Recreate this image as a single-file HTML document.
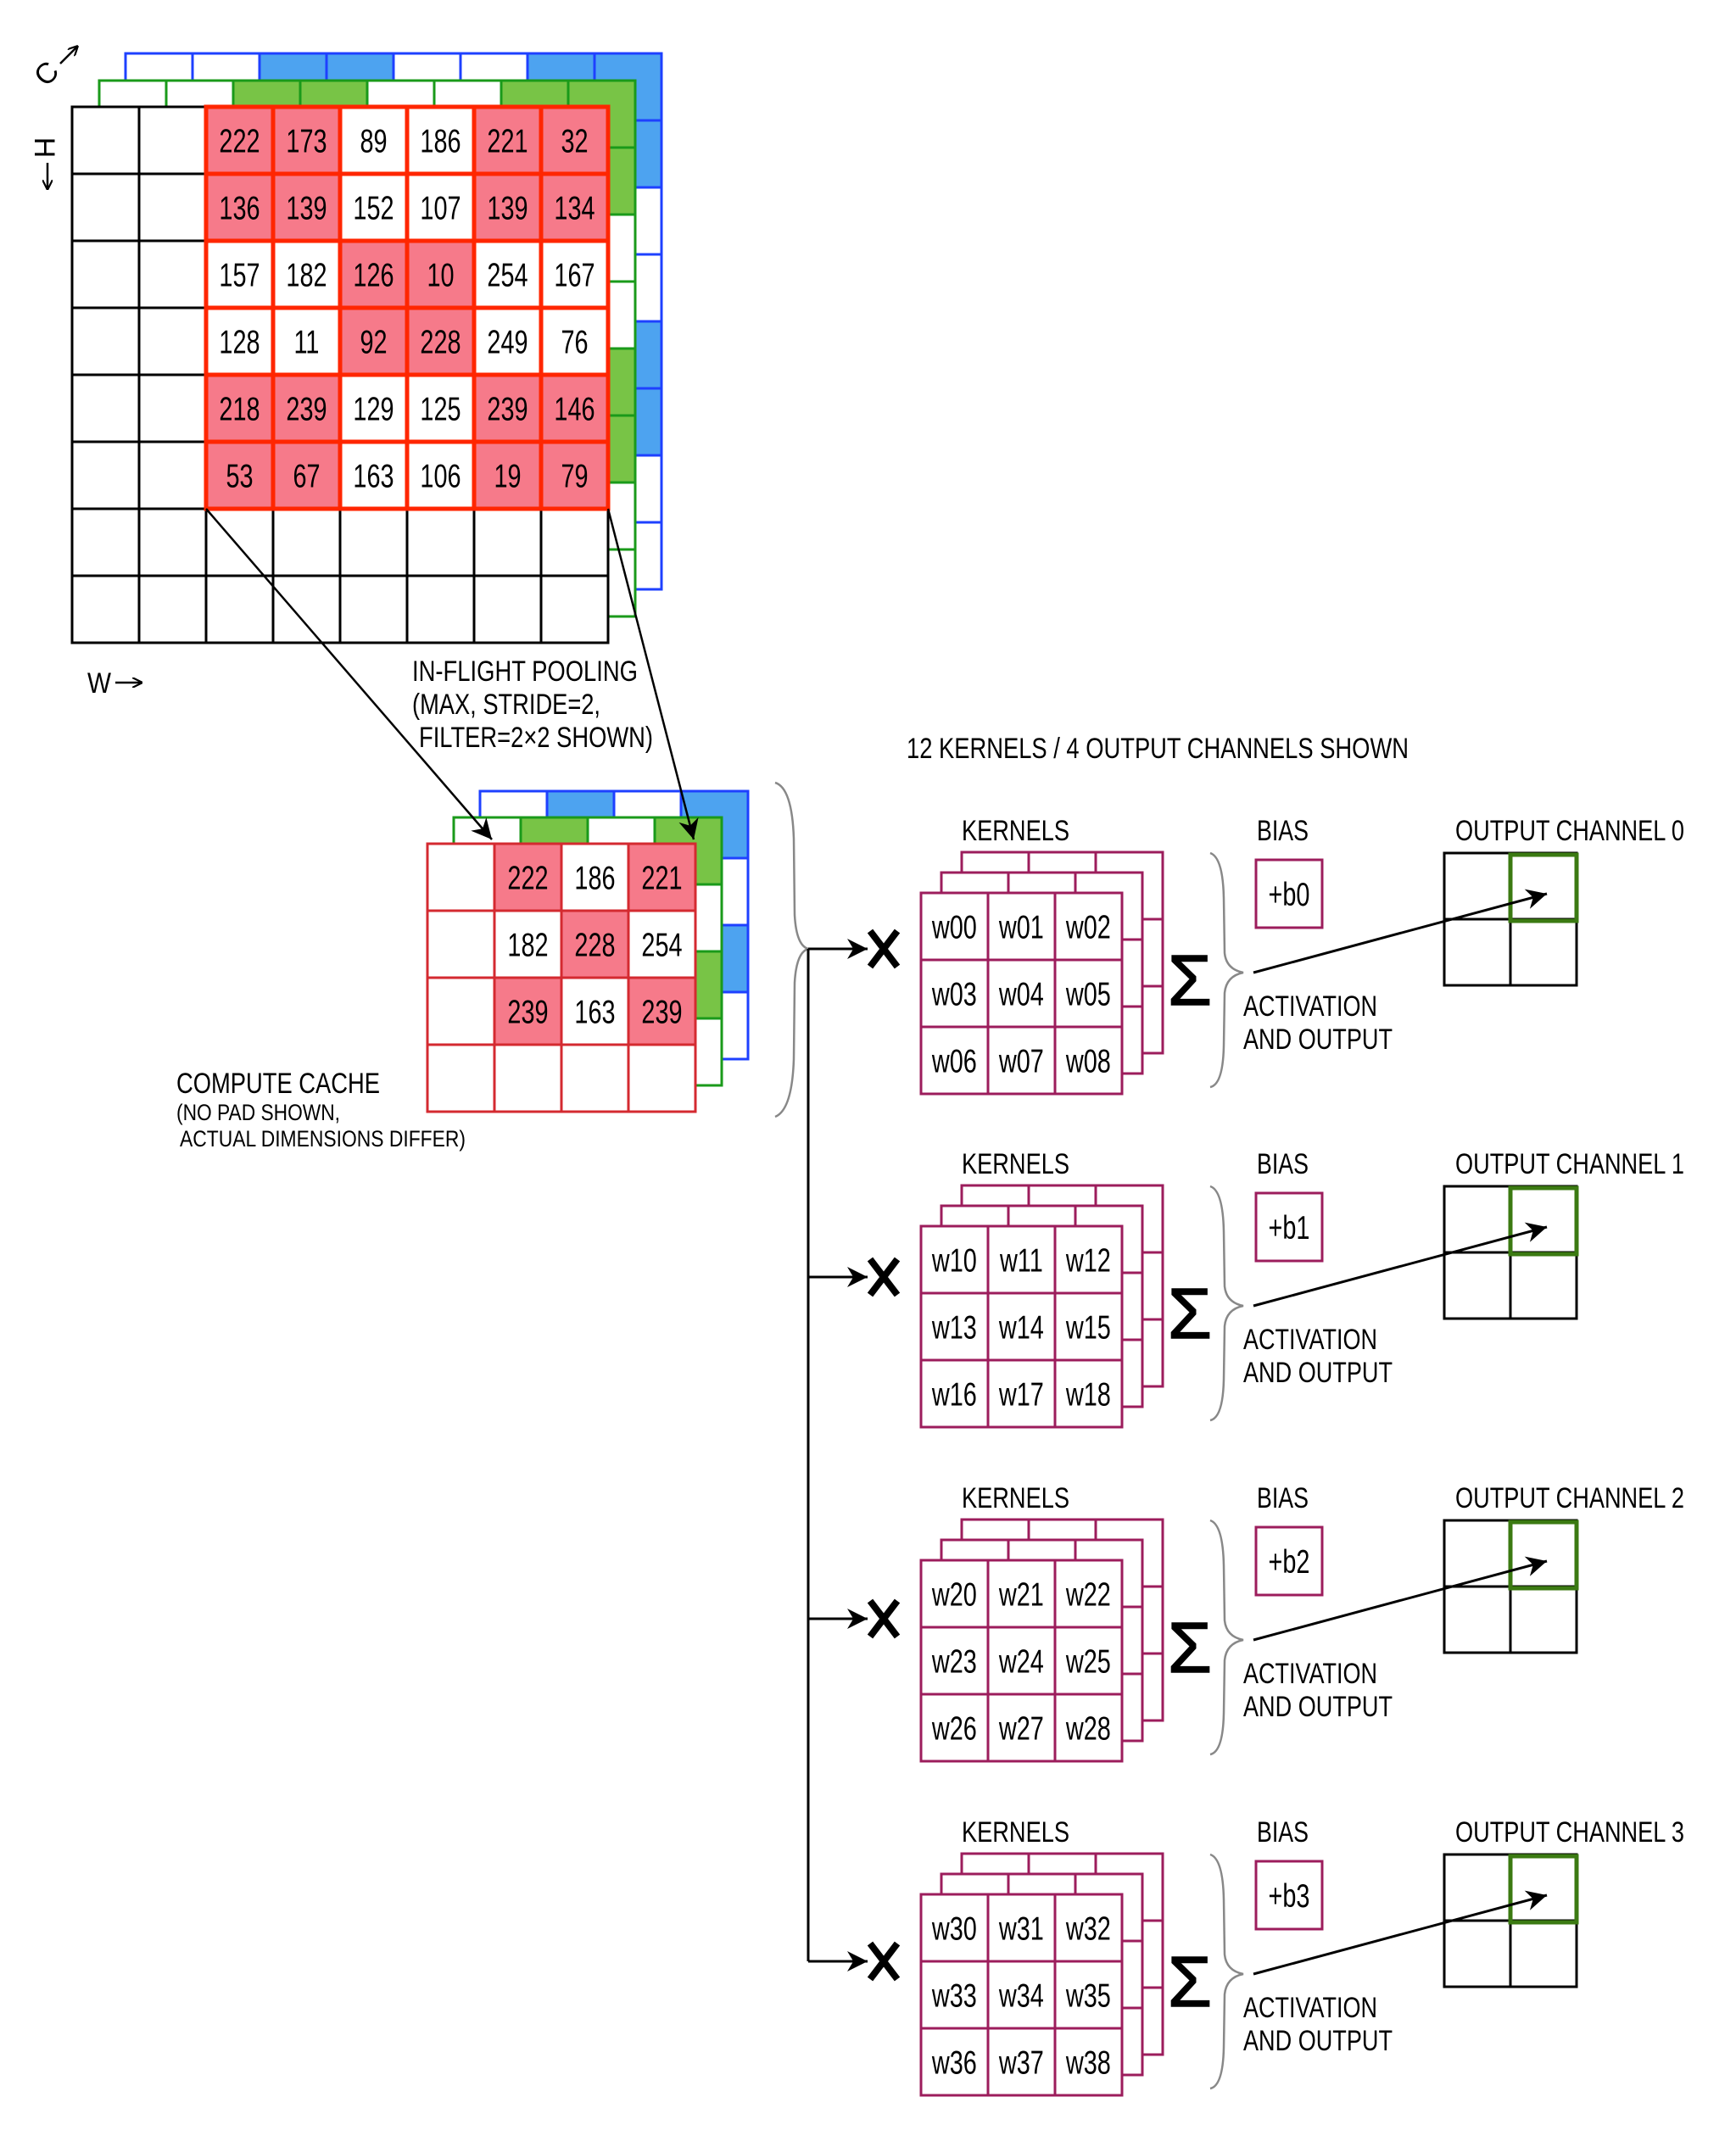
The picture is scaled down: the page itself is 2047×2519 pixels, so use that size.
<!DOCTYPE html>
<html><head><meta charset="utf-8"><style>
html,body{margin:0;padding:0;background:#fff}
svg{display:block}
text{font-family:"Liberation Sans",sans-serif;fill:#000}
.n{font-size:39px;text-anchor:middle;transform-box:fill-box;transform-origin:center;transform:scaleX(.74)}
.l{font-size:34px}
.s{font-size:27px}
</style></head><body>
<svg width="2047" height="2519" viewBox="0 0 2047 2519" xmlns="http://www.w3.org/2000/svg">
<defs>
<marker id="ah" viewBox="0 0 10 10" refX="10" refY="5" markerWidth="24" markerHeight="24" markerUnits="userSpaceOnUse" orient="auto"><path d="M0,0 L10,5 L0,10 L3,5 z" fill="#000"/></marker>
<marker id="sa" viewBox="0 0 10 10" refX="10" refY="5" markerWidth="12" markerHeight="12" markerUnits="userSpaceOnUse" orient="auto"><path d="M0,0 L10,5 L0,10" fill="none" stroke="#000" stroke-width="1.8"/></marker>
</defs>

<g transform="translate(-2,0)">
<!-- axis labels -->
<text x="57" y="98" class="l" text-anchor="middle" transform="rotate(-45 57 87)">C</text>
<line x1="73" y1="75" x2="94" y2="54" stroke="#000" stroke-width="2.5" marker-end="url(#sa)"/>
<text x="55" y="186" class="l" text-anchor="middle" transform="rotate(90 55 174)">H</text>
<line x1="58" y1="192" x2="58" y2="224" stroke="#000" stroke-width="2.5" marker-end="url(#sa)"/>
<text x="105" y="817" class="l" textLength="28" lengthAdjust="spacingAndGlyphs">W</text>
<line x1="138" y1="805" x2="170" y2="805" stroke="#000" stroke-width="2.5" marker-end="url(#sa)"/>

<!-- main blue layer -->
<rect x="150" y="63" width="632" height="632" fill="#fff" stroke="#1E40FF" stroke-width="3"/>
<g fill="#4DA3F0">
<rect x="308" y="63" width="158" height="79"/><rect x="624" y="63" width="158" height="79"/>
<rect x="703" y="142" width="79" height="79"/><rect x="703" y="379" width="79" height="158"/>
</g>
<path d="M229,63V695M308,63V695M387,63V695M466,63V695M545,63V695M624,63V695M703,63V695M150,142H782M150,221H782M150,300H782M150,379H782M150,458H782M150,537H782M150,616H782" stroke="#1E40FF" stroke-width="3" fill="none"/>
<rect x="150" y="63" width="632" height="632" fill="none" stroke="#1E40FF" stroke-width="3"/>

<!-- main green layer -->
<rect x="119" y="95" width="632" height="632" fill="#fff" stroke="#1A9A1A" stroke-width="3"/>
<g fill="#78C446">
<rect x="277" y="95" width="158" height="79"/><rect x="593" y="95" width="158" height="79"/>
<rect x="672" y="174" width="79" height="79"/><rect x="672" y="411" width="79" height="158"/>
</g>
<path d="M198,95V727M277,95V727M356,95V727M435,95V727M514,95V727M593,95V727M672,95V727M119,174H751M119,253H751M119,332H751M119,411H751M119,490H751M119,569H751M119,648H751" stroke="#1A9A1A" stroke-width="3" fill="none"/>
<rect x="119" y="95" width="632" height="632" fill="none" stroke="#1A9A1A" stroke-width="3"/>

<!-- main black grid -->
<rect x="87" y="126" width="632" height="632" fill="#fff"/>
<path d="M166,126V758M245,126V758M324,126V758M403,126V758M482,126V758M561,126V758M640,126V758M87,205H719M87,284H719M87,363H719M87,442H719M87,521H719M87,600H719M87,679H719" stroke="#000" stroke-width="3" fill="none"/>
<rect x="87" y="126" width="632" height="632" fill="none" stroke="#000" stroke-width="3"/>

<!-- red region -->
<g fill="#F67A8A">
<rect x="245" y="126" width="158" height="158"/><rect x="561" y="126" width="158" height="158"/>
<rect x="403" y="284" width="158" height="158"/>
<rect x="245" y="442" width="158" height="158"/><rect x="561" y="442" width="158" height="158"/>
</g>
<path d="M324,126V600M403,126V600M482,126V600M561,126V600M640,126V600M245,205H719M245,284H719M245,363H719M245,442H719M245,521H719" stroke="#FF2600" stroke-width="5" fill="none"/>
<rect x="245" y="126" width="474" height="474" fill="none" stroke="#FF2600" stroke-width="5"/>
<g>
<text class="n" x="284.5" y="179.5">222</text><text class="n" x="363.5" y="179.5">173</text><text class="n" x="442.5" y="179.5">89</text><text class="n" x="521.5" y="179.5">186</text><text class="n" x="600.5" y="179.5">221</text><text class="n" x="679.5" y="179.5">32</text>
<text class="n" x="284.5" y="258.5">136</text><text class="n" x="363.5" y="258.5">139</text><text class="n" x="442.5" y="258.5">152</text><text class="n" x="521.5" y="258.5">107</text><text class="n" x="600.5" y="258.5">139</text><text class="n" x="679.5" y="258.5">134</text>
<text class="n" x="284.5" y="337.5">157</text><text class="n" x="363.5" y="337.5">182</text><text class="n" x="442.5" y="337.5">126</text><text class="n" x="521.5" y="337.5">10</text><text class="n" x="600.5" y="337.5">254</text><text class="n" x="679.5" y="337.5">167</text>
<text class="n" x="284.5" y="416.5">128</text><text class="n" x="363.5" y="416.5">11</text><text class="n" x="442.5" y="416.5">92</text><text class="n" x="521.5" y="416.5">228</text><text class="n" x="600.5" y="416.5">249</text><text class="n" x="679.5" y="416.5">76</text>
<text class="n" x="284.5" y="495.5">218</text><text class="n" x="363.5" y="495.5">239</text><text class="n" x="442.5" y="495.5">129</text><text class="n" x="521.5" y="495.5">125</text><text class="n" x="600.5" y="495.5">239</text><text class="n" x="679.5" y="495.5">146</text>
<text class="n" x="284.5" y="574.5">53</text><text class="n" x="363.5" y="574.5">67</text><text class="n" x="442.5" y="574.5">163</text><text class="n" x="521.5" y="574.5">106</text><text class="n" x="600.5" y="574.5">19</text><text class="n" x="679.5" y="574.5">79</text>
</g>

<!-- pooling label -->
<text class="l" x="488" y="803" textLength="266" lengthAdjust="spacingAndGlyphs">IN-FLIGHT POOLING</text>
<text class="l" x="488" y="842" textLength="222" lengthAdjust="spacingAndGlyphs">(MAX, STRIDE=2,</text>
<text class="l" x="496" y="881" textLength="276" lengthAdjust="spacingAndGlyphs">FILTER=2×2 SHOWN)</text>

<!-- cache blue -->
<rect x="568" y="933" width="316" height="316" fill="#fff"/>
<g fill="#4DA3F0"><rect x="647" y="933" width="79" height="79"/><rect x="805" y="933" width="79" height="79"/><rect x="805" y="1091" width="79" height="79"/></g>
<path d="M647,933V1249M726,933V1249M805,933V1249M568,1012H884M568,1091H884M568,1170H884" stroke="#1E40FF" stroke-width="3" fill="none"/>
<rect x="568" y="933" width="316" height="316" fill="none" stroke="#1E40FF" stroke-width="3"/>
<!-- cache green -->
<rect x="537" y="964" width="316" height="316" fill="#fff"/>
<g fill="#78C446"><rect x="616" y="964" width="79" height="79"/><rect x="774" y="964" width="79" height="79"/><rect x="774" y="1122" width="79" height="79"/></g>
<path d="M616,964V1280M695,964V1280M774,964V1280M537,1043H853M537,1122H853M537,1201H853" stroke="#1A9A1A" stroke-width="3" fill="none"/>
<rect x="537" y="964" width="316" height="316" fill="none" stroke="#1A9A1A" stroke-width="3"/>
<!-- cache red -->
<rect x="506" y="995" width="316" height="316" fill="#fff"/>
<g fill="#F67A8A"><rect x="585" y="995" width="79" height="79"/><rect x="743" y="995" width="79" height="79"/><rect x="664" y="1074" width="79" height="79"/><rect x="585" y="1153" width="79" height="79"/><rect x="743" y="1153" width="79" height="79"/></g>
<path d="M585,995V1311M664,995V1311M743,995V1311M506,1074H822M506,1153H822M506,1232H822" stroke="#D42A30" stroke-width="3" fill="none"/>
<rect x="506" y="995" width="316" height="316" fill="none" stroke="#D42A30" stroke-width="3"/>
<text class="n" x="624.5" y="1048.5">222</text><text class="n" x="703.5" y="1048.5">186</text><text class="n" x="782.5" y="1048.5">221</text>
<text class="n" x="624.5" y="1127.5">182</text><text class="n" x="703.5" y="1127.5">228</text><text class="n" x="782.5" y="1127.5">254</text>
<text class="n" x="624.5" y="1206.5">239</text><text class="n" x="703.5" y="1206.5">163</text><text class="n" x="782.5" y="1206.5">239</text>

<!-- pooling arrows -->
<line x1="245" y1="600" x2="582" y2="990" stroke="#000" stroke-width="2.5" marker-end="url(#ah)"/>
<line x1="719" y1="600" x2="820" y2="990" stroke="#000" stroke-width="2.5" marker-end="url(#ah)"/>

<text class="l" x="210" y="1289" textLength="240" lengthAdjust="spacingAndGlyphs">COMPUTE CACHE</text>
<text class="s" x="210" y="1321" textLength="193" lengthAdjust="spacingAndGlyphs">(NO PAD SHOWN,</text>
<text class="s" x="214" y="1352" textLength="337" lengthAdjust="spacingAndGlyphs">ACTUAL DIMENSIONS DIFFER)</text>
</g>

<g transform="translate(-4,-1)">
<text class="l" x="1073" y="895" textLength="592" lengthAdjust="spacingAndGlyphs">12 KERNELS / 4 OUTPUT CHANNELS SHOWN</text>

<!-- big brace and trunk -->
<path d="M918,924 Q938,930 940,990 L941,1080 Q943,1116 957,1120 Q943,1124 941,1160 L940,1250 Q938,1310 918,1318" fill="none" stroke="#888" stroke-width="2.5"/>
<path d="M957,1120V2314" stroke="#000" stroke-width="3" fill="none"/>
<g stroke="#000" stroke-width="3" fill="none">
<line x1="957" y1="1120" x2="1027" y2="1120" marker-end="url(#ah)"/>
<line x1="957" y1="1507" x2="1027" y2="1507" marker-end="url(#ah)"/>
<line x1="957" y1="1910" x2="1027" y2="1910" marker-end="url(#ah)"/>
<line x1="957" y1="2314" x2="1027" y2="2314" marker-end="url(#ah)"/>
</g>
<g stroke="#000" stroke-width="8" fill="none">
<path d="M1030,1099L1062,1141M1062,1099L1030,1141"/>
<path d="M1030,1486L1062,1528M1062,1486L1030,1528"/>
<path d="M1030,1889L1062,1931M1062,1889L1030,1931"/>
<path d="M1030,2293L1062,2335M1062,2293L1030,2335"/>
</g>

<g id="g0">
<rect x="1138" y="1006" width="237" height="237" fill="#fff" stroke="#9C1D5C" stroke-width="3"/>
<path d="M1217,1006V1243M1296,1006V1243M1138,1085H1375M1138,1164H1375" stroke="#9C1D5C" stroke-width="3"/>
<rect x="1114" y="1030" width="237" height="237" fill="#fff" stroke="#9C1D5C" stroke-width="3"/>
<path d="M1193,1030V1267M1272,1030V1267M1114,1109H1351M1114,1188H1351" stroke="#9C1D5C" stroke-width="3"/>
<rect x="1090" y="1054" width="237" height="237" fill="#fff" stroke="#9C1D5C" stroke-width="3"/>
<path d="M1169,1054V1291M1248,1054V1291M1090,1133H1327M1090,1212H1327" stroke="#9C1D5C" stroke-width="3"/>
<text class="l" x="1138" y="992" textLength="127" lengthAdjust="spacingAndGlyphs">KERNELS</text>
<text class="l" x="1486" y="992" textLength="61" lengthAdjust="spacingAndGlyphs">BIAS</text>
<text x="1407" y="1186" style="font-size:84px;text-anchor:middle;stroke:#000;stroke-width:1.5">Σ</text>
<path d="M1431,1007 Q1446,1012 1447,1060 L1448,1125 Q1450,1144 1470,1148 Q1450,1152 1448,1172 L1447,1235 Q1446,1280 1431,1283" fill="none" stroke="#888" stroke-width="2.5"/>
<rect x="1485" y="1015" width="78" height="80" fill="#fff" stroke="#9C1D5C" stroke-width="3"/>
<rect x="1707" y="1007" width="156" height="156" fill="#fff" stroke="#000" stroke-width="3"/>
<path d="M1785,1007V1163M1707,1085H1863" stroke="#000" stroke-width="3"/>
<rect x="1785" y="1009" width="78" height="78" fill="none" stroke="#3B7A12" stroke-width="5"/>
<line x1="1482" y1="1148" x2="1828" y2="1055" stroke="#000" stroke-width="3" marker-end="url(#ah)"/>
<text class="l" x="1470" y="1199" textLength="158" lengthAdjust="spacingAndGlyphs">ACTIVATION</text>
<text class="l" x="1470" y="1238" textLength="176" lengthAdjust="spacingAndGlyphs">AND OUTPUT</text>
</g>
<g>
<text class="n" x="1129.5" y="1107.5">w00</text><text class="n" x="1208.5" y="1107.5">w01</text><text class="n" x="1287.5" y="1107.5">w02</text>
<text class="n" x="1129.5" y="1186.5">w03</text><text class="n" x="1208.5" y="1186.5">w04</text><text class="n" x="1287.5" y="1186.5">w05</text>
<text class="n" x="1129.5" y="1265.5">w06</text><text class="n" x="1208.5" y="1265.5">w07</text><text class="n" x="1287.5" y="1265.5">w08</text>
<text class="n" x="1524" y="1069">+b0</text>
<text class="l" x="1720" y="992" textLength="270" lengthAdjust="spacingAndGlyphs">OUTPUT CHANNEL 0</text>
</g>
<use href="#g0" transform="translate(0,393)"/>
<use href="#g0" transform="translate(0,787)"/>
<use href="#g0" transform="translate(0,1181)"/>
<g transform="translate(0,393)">
<text class="n" x="1129.5" y="1107.5">w10</text><text class="n" x="1208.5" y="1107.5">w11</text><text class="n" x="1287.5" y="1107.5">w12</text>
<text class="n" x="1129.5" y="1186.5">w13</text><text class="n" x="1208.5" y="1186.5">w14</text><text class="n" x="1287.5" y="1186.5">w15</text>
<text class="n" x="1129.5" y="1265.5">w16</text><text class="n" x="1208.5" y="1265.5">w17</text><text class="n" x="1287.5" y="1265.5">w18</text>
<text class="n" x="1524" y="1069">+b1</text>
<text class="l" x="1720" y="992" textLength="270" lengthAdjust="spacingAndGlyphs">OUTPUT CHANNEL 1</text>
</g>
<g transform="translate(0,787)">
<text class="n" x="1129.5" y="1107.5">w20</text><text class="n" x="1208.5" y="1107.5">w21</text><text class="n" x="1287.5" y="1107.5">w22</text>
<text class="n" x="1129.5" y="1186.5">w23</text><text class="n" x="1208.5" y="1186.5">w24</text><text class="n" x="1287.5" y="1186.5">w25</text>
<text class="n" x="1129.5" y="1265.5">w26</text><text class="n" x="1208.5" y="1265.5">w27</text><text class="n" x="1287.5" y="1265.5">w28</text>
<text class="n" x="1524" y="1069">+b2</text>
<text class="l" x="1720" y="992" textLength="270" lengthAdjust="spacingAndGlyphs">OUTPUT CHANNEL 2</text>
</g>
<g transform="translate(0,1181)">
<text class="n" x="1129.5" y="1107.5">w30</text><text class="n" x="1208.5" y="1107.5">w31</text><text class="n" x="1287.5" y="1107.5">w32</text>
<text class="n" x="1129.5" y="1186.5">w33</text><text class="n" x="1208.5" y="1186.5">w34</text><text class="n" x="1287.5" y="1186.5">w35</text>
<text class="n" x="1129.5" y="1265.5">w36</text><text class="n" x="1208.5" y="1265.5">w37</text><text class="n" x="1287.5" y="1265.5">w38</text>
<text class="n" x="1524" y="1069">+b3</text>
<text class="l" x="1720" y="992" textLength="270" lengthAdjust="spacingAndGlyphs">OUTPUT CHANNEL 3</text>
</g>
</g>
</svg>
</body></html>
